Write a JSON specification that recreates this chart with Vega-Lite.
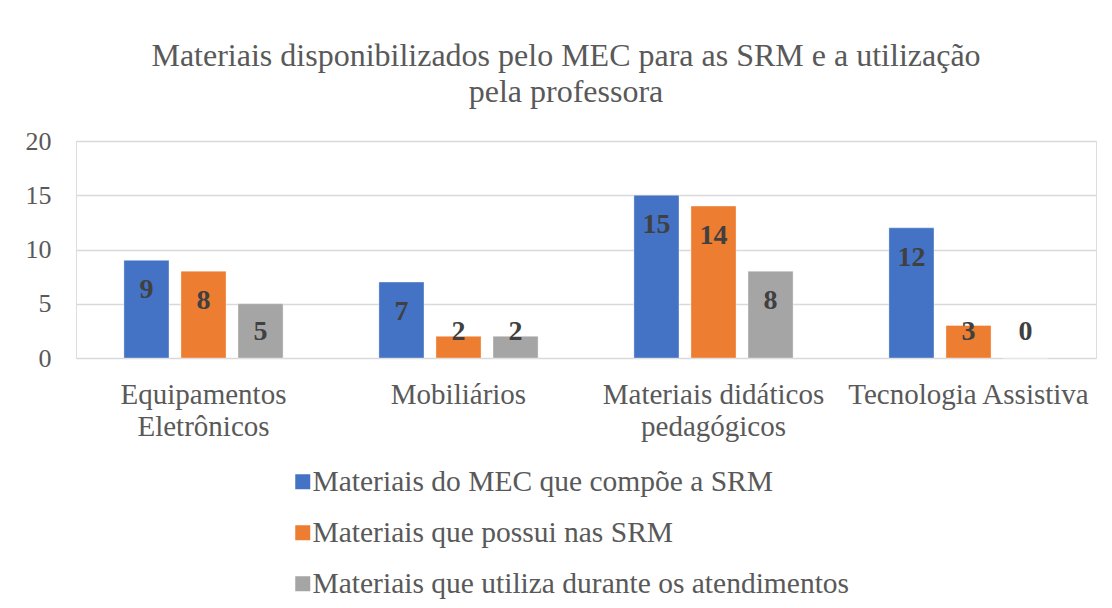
{
  "$schema": "https://vega.github.io/schema/vega-lite/v6.json",
  "width": 1020,
  "height": 217,
  "autosize": {"type": "none"},
  "padding": {"left": 76, "top": 141, "right": 16, "bottom": 250},
  "background": "white",
  "title": {
    "text": ["Materiais disponibilizados pelo MEC para as SRM e a utilização", "pela professora"],
    "font": "Liberation Serif",
    "fontSize": 32,
    "fontWeight": "normal",
    "color": "#595959",
    "lineHeight": 36,
    "anchor": "middle",
    "frame": "group",
    "dx": -20,
    "offset": 19
  },
  "data": {
    "values": [
      {"category": "Equipamentos Eletrônicos", "series": "Materiais do MEC que compõe a SRM", "value": 9},
      {"category": "Equipamentos Eletrônicos", "series": "Materiais que possui nas SRM", "value": 8},
      {"category": "Equipamentos Eletrônicos", "series": "Materiais que utiliza durante os atendimentos", "value": 5},
      {"category": "Mobiliários", "series": "Materiais do MEC que compõe a SRM", "value": 7},
      {"category": "Mobiliários", "series": "Materiais que possui nas SRM", "value": 2},
      {"category": "Mobiliários", "series": "Materiais que utiliza durante os atendimentos", "value": 2},
      {"category": "Materiais didáticos pedagógicos", "series": "Materiais do MEC que compõe a SRM", "value": 15},
      {"category": "Materiais didáticos pedagógicos", "series": "Materiais que possui nas SRM", "value": 14},
      {"category": "Materiais didáticos pedagógicos", "series": "Materiais que utiliza durante os atendimentos", "value": 8},
      {"category": "Tecnologia Assistiva", "series": "Materiais do MEC que compõe a SRM", "value": 12},
      {"category": "Tecnologia Assistiva", "series": "Materiais que possui nas SRM", "value": 3},
      {"category": "Tecnologia Assistiva", "series": "Materiais que utiliza durante os atendimentos", "value": 0}
    ]
  },
  "encoding": {
    "x": {
      "field": "category",
      "type": "nominal",
      "sort": ["Equipamentos Eletrônicos", "Mobiliários", "Materiais didáticos pedagógicos", "Tecnologia Assistiva"],
      "scale": {"paddingInner": 0, "paddingOuter": 0},
      "axis": {
        "title": null,
        "labelAngle": 0,
        "labelFont": "Liberation Serif",
        "labelFontSize": 29,
        "labelColor": "#595959",
        "labelLineHeight": 32,
        "labelPadding": 22,
        "labelBaseline": "top",
        "labelLimit": 400,
        "domain": false,
        "ticks": false,
        "labelExpr": "datum.label == 'Equipamentos Eletrônicos' ? ['Equipamentos', 'Eletrônicos'] : datum.label == 'Materiais didáticos pedagógicos' ? ['Materiais didáticos', 'pedagógicos'] : datum.label"
      }
    },
    "xOffset": {
      "field": "series",
      "type": "nominal",
      "sort": ["Materiais do MEC que compõe a SRM", "Materiais que possui nas SRM", "Materiais que utiliza durante os atendimentos"],
      "scale": {"paddingInner": 0.21, "paddingOuter": 0.84}
    }
  },
  "layer": [
    {
      "mark": {"type": "bar", "stroke": "white", "strokeOpacity": 0.35, "strokeWidth": 1},
      "encoding": {
        "y": {
          "field": "value",
          "type": "quantitative",
          "scale": {"domain": [0, 20]},
          "axis": {
            "title": null,
            "values": [0, 5, 10, 15, 20],
            "labelFont": "Liberation Serif",
            "labelFontSize": 26,
            "labelColor": "#595959",
            "labelPadding": 25,
            "domain": false,
            "ticks": false,
            "grid": true,
            "gridColor": "#d9d9d9",
            "gridWidth": 1.5
          }
        },
        "color": {
          "field": "series",
          "type": "nominal",
          "sort": ["Materiais do MEC que compõe a SRM", "Materiais que possui nas SRM", "Materiais que utiliza durante os atendimentos"],
          "scale": {"range": ["#4472C4", "#ED7D31", "#A5A5A5"]},
          "legend": {
            "title": null,
            "orient": "none",
            "legendX": 212,
            "legendY": 326,
            "direction": "vertical",
            "symbolType": "square",
            "symbolSize": 225,
            "symbolStrokeWidth": 0,
            "labelFont": "Liberation Serif",
            "labelFontSize": 29.5,
            "labelColor": "#595959",
            "labelOffset": -5,
            "labelLimit": 700,
            "rowPadding": 20
          }
        }
      }
    },
    {
      "transform": [{"calculate": "max(datum.value - 2.75, 2.4)", "as": "labelPos"}],
      "mark": {
        "type": "text",
        "font": "Liberation Serif",
        "fontSize": 28,
        "fontWeight": "bold",
        "color": "#404040",
        "baseline": "middle",
        "align": "center"
      },
      "encoding": {
        "y": {"field": "labelPos", "type": "quantitative"},
        "text": {"field": "value", "type": "quantitative"}
      }
    }
  ]
}
